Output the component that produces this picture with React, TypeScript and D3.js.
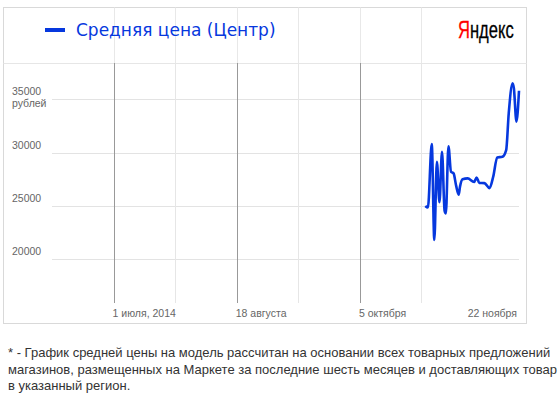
import React from "react";
import * as d3 from "d3";

// price series (Центр)
const dates = [
  "2014-10-30T12:00", "2014-10-31T12:00", "2014-11-02", "2014-11-03", "2014-11-04",
  "2014-11-05", "2014-11-06", "2014-11-07", "2014-11-07T12:00", "2014-11-08T12:00",
  "2014-11-09T12:00", "2014-11-10T12:00", "2014-11-11T12:00", "2014-11-12T12:00", "2014-11-13",
  "2014-11-14", "2014-11-16", "2014-11-18T12:00", "2014-11-19T12:00", "2014-11-20T12:00",
  "2014-11-22T12:00", "2014-11-24T12:00", "2014-11-26", "2014-11-27T12:00", "2014-11-29T12:00",
  "2014-12-01", "2014-12-02", "2014-12-03T12:00", "2014-12-04", "2014-12-05", "2014-12-06"
];
const prices = [
  25000, 24850, 30800, 21800, 29140,
  25340, 30080, 24560, 24300, 30600,
  28200, 28050, 26900, 26060, 26800,
  27500, 27580, 27250, 27670, 27160,
  27140, 26670, 27800, 29550, 29610,
  30240, 33680, 36500, 36030, 32900, 35800
];

const yTicks = [20000, 25000, 30000, 35000];
const majorDates = ["2014-07-01", "2014-08-18", "2014-10-05"];
const minorDates = ["2014-07-25", "2014-09-11", "2014-10-29"];
const xLabelDates = ["2014-07-01", "2014-08-18", "2014-10-05", "2014-11-22"];
const xLabels = ["1 июля, 2014", "18 августа", "5 октября", "22 ноября"];
const seriesName = "Средняя цена (Центр)";
const unit = "рублей";
const footnote = [
  "* - График средней цены на модель рассчитан на основании всех товарных предложений",
  "магазинов, размещенных на Маркете за последние шесть месяцев и доставляющих товар",
  "в указанный регион."
];

const W = 560;
const H = 394;
const frame = { x: 3.5, y: 7.5, r: 526.5, b: 323.5 };
const plot = { left: 52, right: 519, top: 63, bottom: 303 };
const blue = "#0638de";

export default function App() {
  const parse = (s: string) => new Date(s);

  const x = d3
    .scaleTime()
    .domain([parse("2014-06-07"), parse("2014-12-06")])
    .range([plot.left, plot.right]);

  const y = d3.scaleLinear().domain([15900, 38400]).range([plot.bottom, plot.top]);

  const data = dates.map((d, i) => ({ date: parse(d), value: prices[i] }));

  const line = d3
    .line<{ date: Date; value: number }>()
    .x(d => x(d.date))
    .y(d => y(d.value))
    .curve(d3.curveMonotoneX);

  const axisFont = "'Liberation Sans', Arial, sans-serif";

  return (
    <div style={{ position: "absolute", left: 0, top: 0 }}>
      <svg width={W} height={H} style={{ display: "block", background: "#fff" }}>
        <rect
          x={frame.x}
          y={frame.y}
          width={frame.r - frame.x}
          height={frame.b - frame.y}
          fill="#fff"
          stroke="#d9d9d9"
        />
        <line x1={frame.x} x2={frame.r} y1={plot.top + 0.5} y2={plot.top + 0.5} stroke="#e6e6e6" />

        {/* vertical grid, top band */}
        {[...majorDates, ...minorDates].map(d => {
          const px = Math.round(x(parse(d))) + 0.5;
          return <line key={"t" + d} x1={px} x2={px} y1={frame.y} y2={plot.top} stroke="#e8e8e8" />;
        })}

        {/* horizontal grid */}
        {yTicks.map(t => {
          const py = Math.round(y(t)) + 0.5;
          return <line key={t} x1={plot.left} x2={plot.right} y1={py} y2={py} stroke="#e3e3e3" />;
        })}

        {/* vertical grid, plot */}
        {minorDates.map(d => {
          const px = Math.round(x(parse(d))) + 0.5;
          return <line key={"m" + d} x1={px} x2={px} y1={plot.top} y2={plot.bottom} stroke="#e6e6e6" />;
        })}
        {majorDates.map(d => {
          const px = Math.round(x(parse(d))) + 0.5;
          return <line key={"M" + d} x1={px} x2={px} y1={plot.top} y2={plot.bottom} stroke="#999" />;
        })}

        {/* y labels */}
        {yTicks.map(t => (
          <text key={"l" + t} x={12} y={y(t) - 4} fontFamily={axisFont} fontSize={10.5} fill="#666">
            {t}
          </text>
        ))}
        <text x={12} y={y(35000) + 8} fontFamily={axisFont} fontSize={10.5} fill="#666">
          {unit}
        </text>

        {/* x labels */}
        {xLabelDates.map((d, i) => {
          const last = i === xLabelDates.length - 1;
          return (
            <text
              key={"x" + d}
              x={last ? plot.right - 2 : x(parse(d)) - 1}
              y={plot.bottom + 14}
              textAnchor={last ? "end" : "start"}
              fontFamily={axisFont}
              fontSize={10.5}
              fill="#666"
            >
              {xLabels[i]}
            </text>
          );
        })}

        <path d={line(data) || ""} fill="none" stroke={blue} strokeWidth={2.6} strokeLinejoin="round" />

        {/* legend */}
        <line x1={45} x2={65} y1={30} y2={30} stroke={blue} strokeWidth={4} />
        <text x={76} y={36} fontFamily="'DejaVu Sans', Verdana, sans-serif" fontSize={17} fill={blue}>
          {seriesName}
        </text>

        {/* logo */}
        <text
          transform="translate(458,38) scale(0.72,1)"
          fontFamily="'Liberation Sans', Arial, sans-serif"
          fontSize={23}
          stroke="#000"
          strokeWidth={0.3}
        >
          <tspan fill="#f00" stroke="#f00">Я</tspan>
          <tspan fill="#000">ндекс</tspan>
        </text>

        {/* footnote */}
        {footnote.map((s, i) => (
          <text
            key={i}
            x={8}
            y={357 + i * 16.5}
            fontFamily="'Liberation Sans', Arial, sans-serif"
            fontSize={13}
            fill="#333"
          >
            {s}
          </text>
        ))}
      </svg>
    </div>
  );
}
